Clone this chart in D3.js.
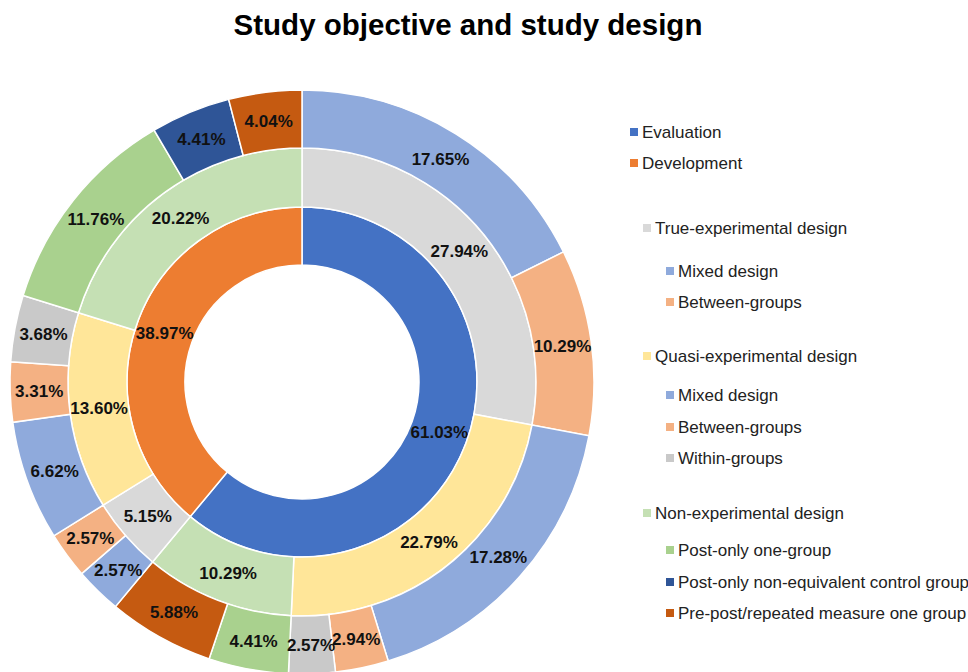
<!DOCTYPE html>
<html>
<head>
<meta charset="utf-8">
<script src="https://cdn.jsdelivr.net/npm/d3@7"></script>
<style>
  html, body { margin: 0; padding: 0; background: #fff; }
  svg { display: block; font-family: "Liberation Sans", Arial, sans-serif; }
</style>
</head>
<body>
<svg id="chart" width="968" height="672"></svg>
<script>
// Inner ring: study objective
const objectives = ["Evaluation", "Development"];
const objectiveValues = [61.03, 38.97];

// Middle ring: study design within each objective (clockwise order)
const designKeys = ["true", "quasi", "non", "true", "quasi", "non"];
const designValues = [27.94, 22.79, 10.29, 5.15, 13.60, 20.22];

// Outer ring: sub-designs within each design (clockwise order)
const subKeys = [
  "mixed", "between",                 // Evaluation / true-experimental
  "mixed", "between", "within",       // Evaluation / quasi-experimental
  "postOne", "prePost",               // Evaluation / non-experimental
  "mixed", "between",                 // Development / true-experimental
  "mixed", "between", "within",       // Development / quasi-experimental
  "postOne", "postNonEq", "prePost"   // Development / non-experimental
];
const subValues = [17.65, 10.29, 17.28, 2.94, 2.57, 4.41, 5.88, 2.57, 2.57, 6.62, 3.31, 3.68, 11.76, 4.41, 4.04];

// Legend entries: [label, colour key, indent level]
const legendItems = [
  ["Evaluation", "Evaluation", 0],
  ["Development", "Development", 0],
  ["True-experimental design", "true", 1],
  ["Mixed design", "mixed", 2],
  ["Between-groups", "between", 2],
  ["Quasi-experimental design", "quasi", 1],
  ["Mixed design", "mixed", 2],
  ["Between-groups", "between", 2],
  ["Within-groups", "within", 2],
  ["Non-experimental design", "non", 1],
  ["Post-only one-group", "postOne", 2],
  ["Post-only non-equivalent control group", "postNonEq", 2],
  ["Pre-post/repeated measure one group", "prePost", 2]
];
const legendY = [132, 163, 228, 271, 302, 356, 395, 427, 458, 513, 550, 582, 613];

const colors = {
  Evaluation: "#4472C4",
  Development: "#ED7D31",
  true: "#D9D9D9",
  quasi: "#FFE699",
  non: "#C5E0B4",
  mixed: "#8FAADC",
  between: "#F4B183",
  within: "#C9C9C9",
  postOne: "#A9D18E",
  postNonEq: "#2F5597",
  prePost: "#C55A11"
};

const svg = d3.select("#chart");
const cx = 302, cy = 382;
const radii = [117, 175, 234, 292];

svg.append("text")
  .attr("x", 468).attr("y", 35)
  .attr("text-anchor", "middle")
  .attr("font-size", 29.5).attr("font-weight", "bold")
  .attr("fill", "#000")
  .text("Study objective and study design");

const pie = d3.pie().sort(null).value(d => d.value).startAngle(0).endAngle(2 * Math.PI);
const g = svg.append("g").attr("transform", `translate(${cx},${cy})`);

const rings = [
  objectives.map((k, i) => ({ key: k, value: objectiveValues[i] })),
  designKeys.map((k, i) => ({ key: k, value: designValues[i] })),
  subKeys.map((k, i) => ({ key: k, value: subValues[i] }))
];

rings.forEach((data, ri) => {
  const arc = d3.arc().innerRadius(radii[ri]).outerRadius(radii[ri + 1]);
  const arcs = pie(data);
  const ring = g.append("g");
  ring.selectAll("path").data(arcs).join("path")
    .attr("d", arc)
    .attr("fill", d => colors[d.data.key])
    .attr("stroke", "#fff")
    .attr("stroke-width", 1.5);
  ring.selectAll("text").data(arcs).join("text")
    .attr("transform", d => `translate(${arc.centroid(d)})`)
    .attr("text-anchor", "middle")
    .attr("dy", "0.36em")
    .attr("font-size", 17).attr("font-weight", "bold")
    .attr("fill", "#111")
    .text(d => d.data.value.toFixed(2) + "%");
});

// Legend
const levelX = [630, 643, 666];
const legend = svg.append("g");
legendItems.forEach(([label, key, lvl], i) => {
  const y = legendY[i];
  legend.append("rect")
    .attr("x", levelX[lvl]).attr("y", y - 4)
    .attr("width", 8).attr("height", 8)
    .attr("fill", colors[key]);
  legend.append("text")
    .attr("x", levelX[lvl] + 12).attr("y", y)
    .attr("dy", "0.35em")
    .attr("font-size", 17)
    .attr("fill", "#222")
    .text(label);
});
</script>
</body>
</html>
